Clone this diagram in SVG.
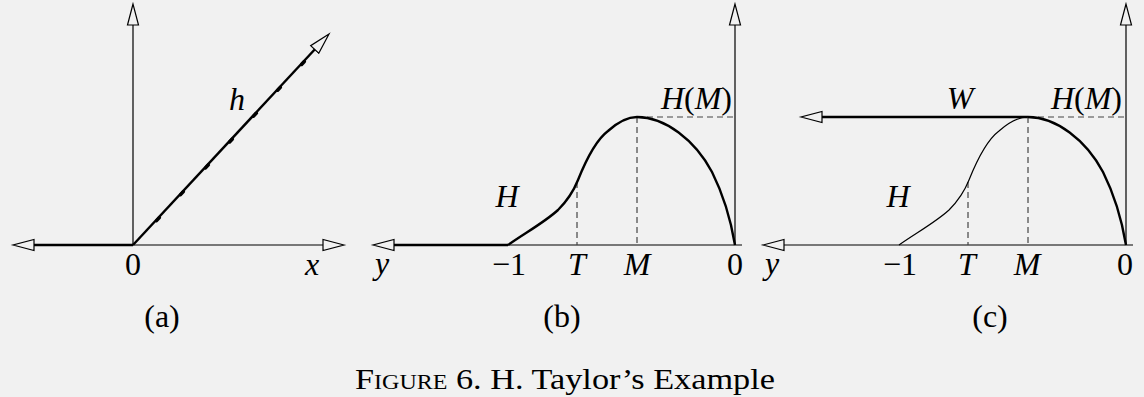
<svg xmlns="http://www.w3.org/2000/svg" width="1144" height="397" viewBox="0 0 1144 397">
<style>
.thin{stroke:#000;stroke-width:1.2;fill:none}
.thick{stroke:#000;stroke-width:2.4;fill:none}
.dash{stroke:#444;stroke-width:1.2;fill:none;stroke-dasharray:6 4}
.tick{stroke:#000;stroke-width:3.4;stroke-linecap:round}
.it{font-style:italic}
.up{font-style:normal}
.mid{text-anchor:middle}
.end{text-anchor:end}
</style>
<defs>
<marker id="arr" markerUnits="userSpaceOnUse" markerWidth="26" markerHeight="16" viewBox="0 -8 26 16" refX="17" refY="0" orient="auto">
<path d="M22,0 L1,-5.5 L1,5.5 Z" fill="#f1f1f1" stroke="#000" stroke-width="1.2" stroke-linejoin="miter"/>
</marker>
</defs>
<rect x="0" y="0" width="1144" height="397" fill="#f1f1f1"/>

<g id="connectors">
<line class="thin" x1="133" y1="245" x2="339" y2="245" marker-end="url(#arr)"/>
<line class="thick" x1="133" y1="245" x2="18" y2="245" marker-end="url(#arr)"/>
<line class="thin" x1="133" y1="245" x2="133" y2="9" marker-end="url(#arr)"/>
<line class="thick" x1="133" y1="245" x2="325.6" y2="37.7" stroke-width="2" marker-end="url(#arr)"/>
<g>
<line class="tick" x1="156.6" y1="220.7" x2="159.4" y2="217.7"/>
<line class="tick" x1="180.6" y1="194.7" x2="183.4" y2="191.7"/>
<line class="tick" x1="205.6" y1="167.9" x2="208.4" y2="164.9"/>
<line class="tick" x1="229.6" y1="142" x2="232.4" y2="139"/>
<line class="tick" x1="253.6" y1="116.2" x2="256.4" y2="113.2"/>
<line class="tick" x1="277.6" y1="90.3" x2="280.4" y2="87.3"/>
<line class="tick" x1="301.6" y1="64.5" x2="304.4" y2="61.5"/>
</g>
<line class="thin" x1="508" y1="245" x2="742" y2="245"/>
<line class="thick" x1="508" y1="245" x2="378" y2="245" marker-end="url(#arr)"/>
<line class="thin" x1="735" y1="245" x2="735" y2="9" marker-end="url(#arr)"/>
<path class="dash" d="M577,182 V245 M637,117 V245 M637,117 H735"/>
<path class="thick" d="M508,245 C525,233 545,222 558,210 C568,200 574,190 578,180 C586,160 596,140 608,131 C618,122 627,117 637,117 C665,117 695,140 712,172 C722,192 730,215 735,245"/>
<line class="thin" x1="1133" y1="245" x2="768" y2="245" marker-end="url(#arr)"/>
<line class="thin" x1="1126" y1="245" x2="1126" y2="9" marker-end="url(#arr)"/>
<line class="thick" x1="1028" y1="117" x2="806" y2="117" marker-end="url(#arr)"/>
<g transform="translate(391,0)">
<path class="dash" d="M577,182 V245 M637,117 V245 M637,117 H735"/>
<path class="thin" d="M508,245 C525,233 545,222 558,210 C568,200 574,190 578,180 C586,160 596,140 608,131 C618,122 627,117 637,117"/>
<path class="thick" d="M637,117 C665,117 695,140 712,172 C722,192 730,215 735,245"/>
</g>
</g>

<g font-family="Liberation Serif, serif" font-size="32" fill="#000">
<g id="panel-a">
<text class="it mid" x="237" y="110">h</text>
<text class="mid" x="133" y="275">0</text>
<text class="it mid" x="312" y="275">x</text>
<text class="mid" x="162" y="327">(a)</text>
</g>

<g id="panel-b">
<text class="it mid" x="507" y="207">H</text>
<text class="it end" x="732" y="109">H<tspan class="up">(</tspan>M<tspan class="up">)</tspan></text>
<text class="it mid" x="382" y="274">y</text>
<text class="mid" x="509" y="275">−1</text>
<text class="it mid" x="577" y="275">T</text>
<text class="it mid" x="637" y="275">M</text>
<text class="mid" x="735" y="275">0</text>
<text class="mid" x="562" y="327">(b)</text>
</g>

<g id="panel-c">
<text class="it mid" x="960" y="109">W</text>
<text class="it end" x="1122" y="109">H<tspan class="up">(</tspan>M<tspan class="up">)</tspan></text>
<text class="it mid" x="898" y="207">H</text>
<text class="it mid" x="772" y="274">y</text>
<text class="mid" x="900" y="275">−1</text>
<text class="it mid" x="967" y="275">T</text>
<text class="it mid" x="1027" y="275">M</text>
<text class="mid" x="1125" y="275">0</text>
<text class="mid" x="990" y="327">(c)</text>
</g>

<g id="caption">
<text class="mid" x="565" y="389" font-size="30" textLength="420" lengthAdjust="spacingAndGlyphs"><tspan font-variant="small-caps">Figure</tspan> 6.  H. Taylor’s Example</text>
</g>
</g>
</svg>
